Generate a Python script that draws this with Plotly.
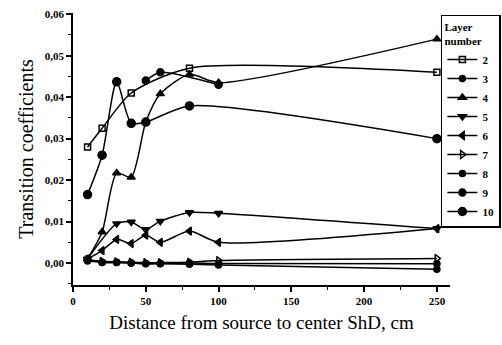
import plotly.graph_objects as go

# Layer number -> (x positions in cm, transition coefficients)
x2 = [10, 20, 40, 80, 250]
y2 = [0.028, 0.0325, 0.041, 0.047, 0.046]

x3 = [10, 20, 30, 40, 50, 60, 80, 100, 250]
y3 = [0.0005, 0.0002, 0.0002, 0.0, -0.0002, -0.0002, -0.0003, -0.0005, -0.0015]

x4 = [10, 20, 30, 40, 50, 60, 80, 100, 250]
y4 = [0.001, 0.0075, 0.0217, 0.0207, 0.034, 0.0408, 0.0455, 0.0435, 0.054]

x5 = [10, 30, 40, 50, 60, 80, 100, 250]
y5 = [0.001, 0.0095, 0.0099, 0.0081, 0.0101, 0.0122, 0.012, 0.0083]

x6 = [10, 20, 30, 40, 50, 60, 80, 100, 250]
y6 = [0.001, 0.003, 0.0057, 0.0047, 0.0067, 0.0050, 0.0077, 0.0050, 0.0083]

x7 = [10, 20, 30, 40, 50, 60, 80, 100, 250]
y7 = [0.0008, 0.0004, 0.0003, 0.0002, 0.0001, 0.0001, 0.0002, 0.0006, 0.0011]

x8 = [10, 20, 30, 40, 50, 60, 80, 100, 250]
y8 = [0.001, 0.0001, 0.0001, 0.0, -0.0001, -0.0001, 0.0, -0.0001, -0.0002]

x9 = [50, 60, 100]
y9 = [0.044, 0.046, 0.043]

x10 = [10, 20, 30, 40, 50, 80, 250]
y10 = [0.0165, 0.026, 0.0437, 0.0337, 0.034, 0.0379, 0.030]

layers = ["2", "3", "4", "5", "6", "7", "8", "9", "10"]
xs = [x2, x3, x4, x5, x6, x7, x8, x9, x10]
ys = [y2, y3, y4, y5, y6, y7, y8, y9, y10]
symbols = ["square-open", "circle", "triangle-up", "triangle-down", "triangle-left",
           "triangle-right-open", "circle", "circle-dot", "circle"]
sizes = [6, 6, 7, 7, 7, 7, 6, 7, 8]

x_ticks = [0, 50, 100, 150, 200, 250]
y_ticks = [0.0, 0.01, 0.02, 0.03, 0.04, 0.05, 0.06]

serif = "Liberation Serif"

fig = go.Figure()
for name, xv, yv, sym, sz in zip(layers, xs, ys, symbols, sizes):
    fig.add_trace(go.Scatter(
        x=xv, y=yv, name=name, mode="lines+markers",
        line=dict(color="black", width=1.5, shape="spline", smoothing=0.7),
        marker=dict(symbol=sym, size=sz, color="black",
                    line=dict(color="black", width=1.5)),
    ))

fig.update_layout(
    width=502, height=345,
    margin=dict(l=73, r=52, t=13, b=60, autoexpand=False),
    paper_bgcolor="white", plot_bgcolor="white",
    separators=", ",
    font=dict(family=serif, color="black"),
    showlegend=True,
    legend=dict(
        title=dict(text="<b>Layer<br>number</b>", font=dict(family=serif, size=11), side="top"),
        font=dict(family=serif, size=11, weight="bold"),
        x=1.135, xanchor="right", y=0.993, yanchor="top",
        bordercolor="black", borderwidth=1.5, bgcolor="white",
        itemwidth=30, tracegroupgap=0,
    ),
    xaxis=dict(
        range=[0, 259], tickvals=x_ticks, ticktext=[str(v) for v in x_ticks],
        showgrid=False, zeroline=False, showline=True, linecolor="black", linewidth=1.5,
        ticks="outside", ticklen=5, tickwidth=1.5, tickcolor="black",
        minor=dict(dtick=25, ticks="outside", ticklen=3, tickcolor="black", tickwidth=1.2),
        tickfont=dict(family=serif, size=11, color="black", weight="bold"),
        title=dict(text="Distance from source to center ShD, cm",
                   font=dict(family=serif, size=19, color="black"), standoff=10),
    ),
    yaxis=dict(
        range=[-0.0053, 0.0603], tickvals=y_ticks, tickformat=".2f",
        showgrid=False, zeroline=False, showline=True, linecolor="black", linewidth=1.5,
        ticks="outside", ticklen=5, tickwidth=1.5, tickcolor="black",
        minor=dict(dtick=0.005, tick0=0, ticks="outside", ticklen=3, tickcolor="black", tickwidth=1.2),
        tickfont=dict(family=serif, size=11, color="black", weight="bold"),
        title=dict(text="Transition coefficients",
                   font=dict(family=serif, size=20, color="black"), standoff=6),
    ),
)

fig.write_html("out.html")
